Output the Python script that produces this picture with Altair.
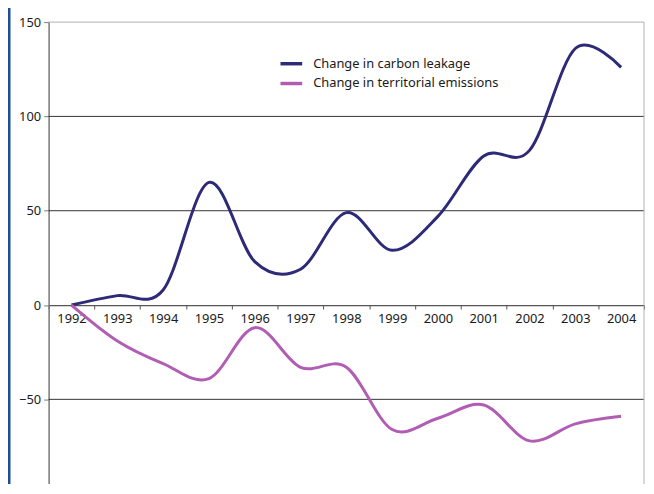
import altair as alt
import pandas as pd

years = ["1992", "1993", "1994", "1995", "1996", "1997", "1998", "1999", "2000", "2001", "2002", "2003", "2004"]
carbon_leakage = [0, 5, 8, 65, 23, 19, 49, 29, 47, 79, 82, 136, 126]
territorial = [0, -19, -31, -39, -12, -33, -33, -66, -60, -53, -72, -63, -59]
series_names = ["Change in carbon leakage", "Change in territorial emissions"]
series_colors = ["#2d2a78", "#b15db3"]
y_ticks = [-100, -50, 0, 50, 100, 150]
grid_values = [100, 50, -50]

rows = []
for yr, v in zip(years, carbon_leakage):
    rows.append({"year": yr, "value": v, "series": series_names[0]})
for yr, v in zip(years, territorial):
    rows.append({"year": yr, "value": v, "series": series_names[1]})
df = pd.DataFrame(rows)

W, H = 601, 464
FONT = "Noto Sans"
FS = 13

yscale = alt.Scale(domain=[-100, 150], range=[476, 0], nice=False, zero=False)
xscale = alt.Scale(domain=years, paddingInner=0, paddingOuter=0)

yaxis = alt.Axis(
    title=None,
    values=y_ticks,
    grid=False,
    labelFont=FONT,
    labelFontSize=FS,
    labelColor="#1a1a1a",
    tickSize=5,
    tickColor="#777777",
    domainColor="#777777",
    domainWidth=1.5,
    labelPadding=3,
)

grid = alt.Chart(pd.DataFrame({"value": grid_values})).mark_rule(
    color="#333333", strokeWidth=1
).encode(y=alt.Y("value:Q", scale=yscale, axis=yaxis))

one = pd.DataFrame({"a": [0]})
top_border = alt.Chart(one).mark_rule(color="#b0b0b0", strokeWidth=1).encode(
    x=alt.value(0), x2=alt.value(W), y=alt.value(0)
)
right_border = alt.Chart(one).mark_rule(color="#b0b0b0", strokeWidth=1).encode(
    x=alt.value(W), y=alt.value(0), y2=alt.value(480)
)
left_frame = alt.Chart(one).mark_rule(color="#1d4f8f", strokeWidth=3).encode(
    x=alt.value(-40), y=alt.value(-20), y2=alt.value(480)
)

lines = alt.Chart(df).mark_line(
    strokeWidth=3, interpolate="cardinal", clip=False
).encode(
    x=alt.X(
        "year:O",
        scale=xscale,
        sort=years,
        axis=alt.Axis(
            title=None,
            orient="bottom",
            offset=-(H - 285.6),
            labelAngle=0,
            labelFont=FONT,
            labelFontSize=FS,
            labelColor="#1a1a1a",
            labelPadding=4,
            tickBand="extent",
            tickSize=4,
            tickColor="#555555",
            domainColor="#555555",
            domainWidth=1.2,
            grid=False,
        ),
    ),
    y=alt.Y("value:Q", scale=yscale, axis=yaxis),
    color=alt.Color(
        "series:N",
        scale=alt.Scale(domain=series_names, range=series_colors),
        legend=alt.Legend(
            title=None,
            orient="none",
            legendX=232,
            legendY=29,
            symbolType="stroke",
            symbolStrokeWidth=3.5,
            symbolSize=480,
            labelFont=FONT,
            labelFontSize=FS,
            labelColor="#1a1a1a",
            labelOffset=9,
            labelLimit=400,
            rowPadding=-3,
        ),
    ),
)

chart = alt.layer(grid, top_border, right_border, left_frame, lines).properties(
    width=W,
    height=H,
    autosize=alt.AutoSizeParams(type="none"),
    padding={"left": 41, "top": 12, "right": 2, "bottom": 0},
).configure_view(stroke=None)

chart.save("out.html", embed_options={"renderer": "svg", "actions": False})
